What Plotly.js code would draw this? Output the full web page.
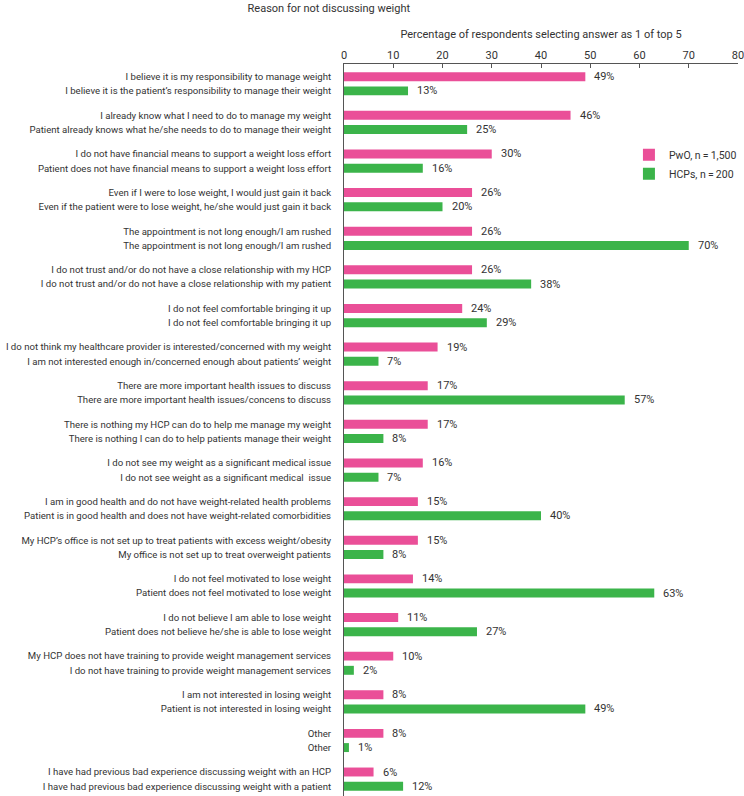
<!DOCTYPE html>
<html>
<head>
<meta charset="utf-8">
<script src="https://cdn.plot.ly/plotly-3.0.1.min.js"></script>
<style>
  html, body { margin: 0; padding: 0; background: #ffffff; }
  #chart { width: 744px; height: 796px; }
</style>
</head>
<body>
<div id="chart"></div>
<script>
// ---- data ----
const pwoLabels = [
  "I believe it is my responsibility to manage weight",
  "I already know what I need to do to manage my weight",
  "I do not have financial means to support a weight loss effort",
  "Even if I were to lose weight, I would just gain it back",
  "The appointment is not long enough/I am rushed",
  "I do not trust and/or do not have a close relationship with my HCP",
  "I do not feel comfortable bringing it up",
  "I do not think my healthcare provider is interested/concerned with my weight",
  "There are more important health issues to discuss",
  "There is nothing my HCP can do to help me manage my weight",
  "I do not see my weight as a significant medical issue",
  "I am in good health and do not have weight-related health problems",
  "My HCP\u2019s office is not set up to treat patients with excess weight/obesity",
  "I do not feel motivated to lose weight",
  "I do not believe I am able to lose weight",
  "My HCP does not have training to provide weight management services",
  "I am not interested in losing weight",
  "Other",
  "I have had previous bad experience discussing weight with an HCP"
];
const hcpLabels = [
  "I believe it is the patient\u2019s responsibility to manage their weight",
  "Patient already knows what he/she needs to do to manage their weight",
  "Patient does not have financial means to support a weight loss effort",
  "Even if the patient were to lose weight, he/she would just gain it back",
  "The appointment is not long enough/I am rushed",
  "I do not trust and/or do not have a close relationship with my patient",
  "I do not feel comfortable bringing it up",
  "I am not interested enough in/concerned enough about patients\u2019 weight",
  "There are more important health issues/concens to discuss",
  "There is nothing I can do to help patients manage their weight",
  "I do not see weight as a significant medical  issue",
  "Patient is in good health and does not have weight-related comorbidities",
  "My office is not set up to treat overweight patients",
  "Patient does not feel motivated to lose weight",
  "Patient does not believe he/she is able to lose weight",
  "I do not have training to provide weight management services",
  "Patient is not interested in losing weight",
  "Other",
  "I have had previous bad experience discussing weight with a patient"
];
const pwoValues = [49, 46, 30, 26, 26, 26, 24, 19, 17, 17, 16, 15, 15, 14, 11, 10, 8, 8, 6];
const hcpValues = [13, 25, 16, 20, 70, 38, 29, 7, 57, 8, 7, 40, 8, 63, 27, 2, 49, 1, 12];
const seriesNames = ["PwO, n\u2009=\u20091,500", "HCPs, n\u2009=\u2009200"];
const xTicks = [0, 10, 20, 30, 40, 50, 60, 70, 80];

// ---- layout helpers ----
const GROUP = 2.72;   // group pitch in bar-slot units
const pinkColor = "#EA4F98";
const greenColor = "#3BB44A";
const FONT = "Roboto, 'Liberation Sans', sans-serif";
const textColor = "#333333";

const pwoY = pwoValues.map((_, i) => i * GROUP);
const hcpY = hcpValues.map((_, i) => i * GROUP + 1);

const tickvals = [];
const ticktext = [];
pwoLabels.forEach((lab, i) => {
  tickvals.push(pwoY[i]); ticktext.push(lab);
  tickvals.push(hcpY[i]); ticktext.push(hcpLabels[i]);
});

const traces = [
  { type: "bar", orientation: "h", name: seriesNames[0], x: pwoValues, y: pwoY,
    width: 0.63, marker: { color: pinkColor }, hoverinfo: "skip" },
  { type: "bar", orientation: "h", name: seriesNames[1], x: hcpValues, y: hcpY,
    width: 0.63, marker: { color: greenColor }, hoverinfo: "skip" }
];

const annotations = [];
pwoValues.forEach((v, i) => annotations.push({
  x: v, y: pwoY[i], xref: "x", yref: "y", text: v + "%", showarrow: false,
  xanchor: "left", yanchor: "middle", xshift: 7, font: { family: FONT, size: 11, color: textColor }
}));
hcpValues.forEach((v, i) => annotations.push({
  x: v, y: hcpY[i], xref: "x", yref: "y", text: v + "%", showarrow: false,
  xanchor: "left", yanchor: "middle", xshift: 7, font: { family: FONT, size: 11, color: textColor }
}));

const layout = {
  width: 744, height: 796,
  margin: { l: 344, r: 6, t: 64, b: 0, pad: 0, autoexpand: false },
  paper_bgcolor: "#ffffff", plot_bgcolor: "#ffffff",
  font: { family: FONT, size: 11, color: textColor },
  title: { text: "Reason for not discussing weight", x: 0.442, xanchor: "center",
           xref: "container", yref: "container", y: 0.995, yanchor: "top",
           font: { family: FONT, size: 11, color: textColor }, pad: { t: 0 } },
  barmode: "overlay",
  showlegend: true,
  legend: { x: 1.01, xanchor: "right", y: 0.896, yanchor: "top", bgcolor: "rgba(0,0,0,0)",
            font: { family: FONT, size: 10.5, color: textColor }, tracegroupgap: 0, itemwidth: 30 },
  xaxis: {
    side: "top", range: [0, 80], tickvals: xTicks, ticktext: xTicks.map(String),
    ticks: "inside", ticklen: 4, tickcolor: "#555555", ticklabeloverflow: "allow",
    showline: true, linecolor: "#555555", linewidth: 1, mirror: false,
    showgrid: false, zeroline: false, automargin: false,
    tickfont: { family: FONT, size: 11, color: textColor },
    title: { text: "Percentage of respondents selecting answer as 1 of top 5", standoff: 7,
             font: { family: FONT, size: 11, color: textColor } }
  },
  yaxis: {
    range: [50.65, -0.894], tickvals: tickvals, ticktext: ticktext,
    ticks: "", showline: true, linecolor: "#555555", linewidth: 1,
    showgrid: false, zeroline: false, ticklabelstandoff: 10, automargin: false,
    tickfont: { family: FONT, size: 9.6, color: textColor }
  },
  annotations: annotations
};

Plotly.newPlot("chart", traces, layout, { staticPlot: true, displayModeBar: false });
</script>
</body>
</html>
